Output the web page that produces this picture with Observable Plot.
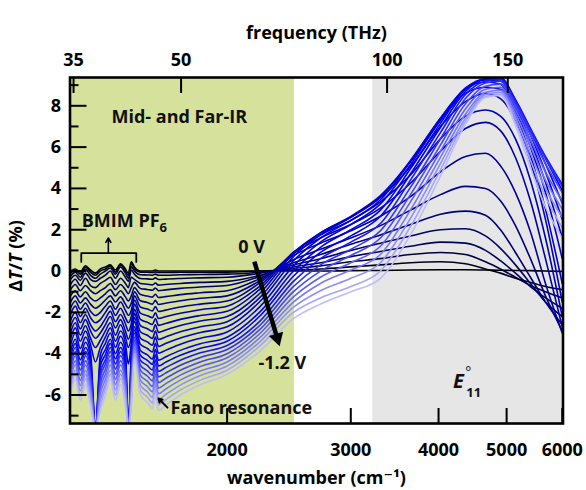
<!DOCTYPE html>
<html><head><meta charset="utf-8">
<script src="https://cdn.jsdelivr.net/npm/d3@7"></script>
<script src="https://cdn.jsdelivr.net/npm/@observablehq/plot@0.6"></script>
<style>
html,body{margin:0;padding:0;background:#fff;}
#chart{width:586px;height:490px;}
</style></head><body><div id="chart"></div>
<script>
// wavenumber grid (cm^-1)
const wavenumber = [1197,1216,1236,1257,1278,1299,1320,1342,1364,1387,1410,1433,1447,1461,1476,1505,1540,1566,1581,1597,1634,1716,1832,2000,2231,2486,2716,3000,3306,3648,4025,4369,4665,4900,5147,5406,5679,6000];
// gate voltages (V)
const voltages = [0,-0.05,-0.1,-0.15,-0.2,-0.25,-0.3,-0.35,-0.4,-0.45,-0.5,-0.55,-0.6,-0.65,-0.7,-0.75,-0.8,-0.85,-0.9,-0.95,-1.0,-1.05,-1.1,-1.15,-1.2];
// ΔT/T (%) spectra, one per voltage
const dT_000 = [0,0.1,-0.05,0.25,0.05,-0.1,0.1,0.2,0.3,0.05,0.35,0.1,-0.1,0.45,0.2,0,0,0,0.05,0,0, 0,0,0,0,0,0,0.02,0.03, 0.05,0.06,0.06,0.05,0.04,0.03,0.02,0,-0.02];
const dT_005 = [-0.1,0.05,-0.15,0.2,-0.05,-0.2,0,0.1,0.25,-0.05,0.3,0,-0.2,0.35,0.1,-0.05,-0.06,-0.07,-0.04,-0.07,-0.07, -0.06,-0.055,-0.05,0,0.05,0.1,0.2,0.3, 0.4,0.45,0.35,0.1,-0.1,-0.35,-0.55,-0.75,-0.9];
const dT_010 = [-0.25,-0.05,-0.3,0.1,-0.2,-0.35,-0.15,0,0.15,-0.15,0.2,-0.1,-0.35,0.2,0,-0.18,-0.19,-0.2,-0.15,-0.2,-0.2, -0.18,-0.165,-0.15,-0.05,0.12,0.25,0.45,0.6, 0.8,0.9,0.8,0.45,0.1,-0.3,-0.7,-1.0,-1.3];
const dT_015 = [-0.4,-0.2,-0.45,-0.1,-0.4,-0.5,-0.35,-0.2,0,-0.35,0,-0.3,-0.5,0.05,-0.15,-0.36,-0.38,-0.4,-0.33,-0.41,-0.39, -0.36,-0.33,-0.3,-0.1,0.2,0.4,0.7,0.95, 1.2,1.4,1.35,1.0,0.5,-0.1,-0.75,-1.3,-1.8];
const dT_020 = [-0.65,-0.4,-0.7,-0.35,-0.7,-0.8,-0.6,-0.45,-0.3,-0.65,-0.35,-0.6,-0.8,-0.3,-0.4,-0.6,-0.64,-0.67,-0.58,-0.68,-0.65, -0.6,-0.55,-0.5,-0.2,0.3,0.6,1.0,1.35, 1.7,2.0,2.05,1.7,1.1,0.3,-0.6,-1.5,-2.2];
const dT_025 = [-0.9,-0.65,-0.95,-0.7,-0.95,-1.1,-0.95,-0.8,-0.6,-0.9,-0.65,-0.9,-1.1,-0.8,-0.55,-0.84,-0.89,-0.93,-0.82,-0.95,-0.91, -0.84,-0.77,-0.7,-0.25,0.4,0.8,1.3,1.75, 2.25,2.75,2.9,2.7,2.0,0.9,-0.3,-1.5,-2.6];
const dT_030 = [-1.2,-0.95,-1.25,-1.0,-1.3,-1.45,-1.3,-1.1,-0.9,-1.2,-0.95,-1.25,-1.45,-1.2,-0.8,-1.14,-1.21,-1.26,-1.12,-1.28,-1.24, -1.14,-1.05,-0.95,-0.35,0.55,1.05,1.6,2.2, 2.95,3.7,4.1,4.0,3.4,2.2,0.6,-1.2,-2.9];
const dT_035 = [-1.5,-1.2,-1.55,-1.3,-1.6,-1.8,-1.65,-1.4,-1.2,-1.5,-1.25,-1.6,-1.8,-1.55,-1.0,-1.44,-1.52,-1.6,-1.42,-1.62,-1.56, -1.44,-1.32,-1.2,-0.45,0.75,1.35,1.95,2.65, 3.6,4.8,5.55,5.7,5.1,3.8,1.9,-0.6,-3.0];
const dT_040 = [-1.8,-1.45,-1.85,-1.55,-1.95,-2.15,-2.0,-1.7,-1.45,-1.85,-1.5,-1.9,-2.15,-1.9,-1.2,-1.74,-1.84,-1.93,-1.72,-1.96,-1.89, -1.74,-1.6,-1.45,-0.55,0.85,1.6,2.25,3.05, 4.25,5.8,6.9,7.2,6.8,5.5,3.4,0.6,-2.7];
const dT_045 = [-2.1,-1.7,-2.2,-1.8,-2.25,-2.5,-2.35,-2.0,-1.7,-2.15,-1.8,-2.25,-2.5,-2.2,-1.4,-2.04,-2.16,-2.26,-2.02,-2.3,-2.21, -2.04,-1.87,-1.7,-0.7,0.9,1.75,2.45,3.35, 4.65,6.4,7.5,7.8,7.5,6.4,4.4,1.6,-2.2];
const dT_050 = [-2.4,-2.0,-2.5,-2.1,-2.6,-2.9,-2.7,-2.3,-1.95,-2.45,-2.1,-2.55,-2.9,-2.55,-1.6,-2.34,-2.48,-2.59,-2.3,-2.63,-2.54, -2.34,-2.15,-1.95,-0.85,0.9,1.85,2.6,3.55, 5.05,7.0,8.2,8.6,8.35,7.25,5.3,2.5,-1.5];
const dT_055 = [-2.7,-2.25,-2.8,-2.35,-2.9,-3.25,-3.0,-2.6,-2.2,-2.75,-2.35,-2.9,-3.3,-2.85,-1.85,-2.64,-2.79,-2.93,-2.6,-2.97,-2.86, -2.64,-2.42,-2.2,-1.05,0.85,1.85,2.65,3.65, 5.3,7.3,8.6,8.9,8.8,7.6,5.6,3.0,-0.6];
const dT_060 = [-3.0,-2.5,-3.1,-2.65,-3.25,-3.7,-3.35,-2.9,-2.5,-3.1,-2.6,-3.2,-3.7,-3.2,-2.05,-2.94,-3.11,-3.26,-2.9,-3.31,-3.19, -2.94,-2.7,-2.45,-1.25,0.7,1.75,2.6,3.6, 5.35,7.4,8.8,9.15,9.05,7.8,6.0,3.8,0.6];
const dT_065 = [-3.3,-2.75,-3.4,-2.9,-3.55,-4.4,-3.7,-3.2,-2.75,-3.4,-2.9,-3.5,-4.5,-3.55,-2.25,-3.24,-3.43,-3.59,-3.2,-3.65,-3.51, -3.24,-2.97,-2.7,-1.45,0.5,1.6,2.45,3.45, 5.3,7.4,8.85,9.25,9.2,8.0,6.3,4.3,1.6];
const dT_070 = [-3.6,-3.0,-3.75,-3.2,-3.9,-7.6,-4.05,-3.5,-3.0,-3.7,-3.15,-3.85,-7.6,-3.9,-2.45,-3.54,-3.75,-3.92,-3.5,-3.98,-3.84, -3.54,-3.25,-2.95,-1.7,0.25,1.4,2.25,3.25, 5.15,7.3,8.85,9.3,9.3,8.15,6.6,4.8,2.5];
const dT_075 = [-3.9,-3.3,-4.05,-3.45,-4.2,-7.6,-4.35,-3.8,-3.3,-4.0,-3.45,-4.2,-7.6,-4.25,-2.7,-3.84,-4.06,-4.26,-3.8,-4.32,-4.16, -3.84,-3.52,-3.2,-1.95,0.0,1.15,2.0,2.95, 4.95,7.15,8.8,9.3,9.35,8.25,6.8,5.2,3.3];
const dT_080 = [-4.15,-3.5,-4.3,-3.7,-4.45,-7.6,-4.6,-4.05,-3.5,-4.25,-3.7,-4.45,-7.6,-4.5,-2.85,-4.08,-4.32,-4.52,-4.05,-4.59,-4.42, -4.08,-3.74,-3.4,-2.15,-0.25,0.9,1.7,2.65, 4.7,6.95,8.7,9.3,9.35,8.3,6.9,5.45,3.9];
const dT_085 = [-4.4,-3.7,-4.55,-3.9,-4.7,-7.6,-4.9,-4.3,-3.7,-4.5,-3.9,-4.7,-7.6,-4.75,-3.0,-4.32,-4.57,-4.79,-4.3,-4.86,-4.68, -4.32,-3.96,-3.6,-2.4,-0.5,0.6,1.4,2.3, 4.4,6.7,8.55,9.2,9.3,8.25,6.9,5.55,4.2];
const dT_090 = [-4.6,-3.9,-4.8,-4.1,-5.0,-7.6,-5.15,-4.5,-3.9,-4.75,-4.1,-4.95,-7.6,-5.0,-3.2,-4.56,-4.83,-5.05,-4.5,-5.13,-4.94, -4.56,-4.18,-3.8,-2.6,-0.75,0.3,1.05,1.95, 4.05,6.4,8.35,9.1,9.2,8.15,6.8,5.45,4.1];
const dT_095 = [-4.85,-4.1,-5.05,-4.35,-5.25,-7.6,-5.45,-4.75,-4.1,-5.0,-4.35,-5.2,-7.6,-5.3,-3.35,-4.8,-5.08,-5.32,-4.75,-5.4,-5.2, -4.8,-4.4,-4.0,-2.8,-1.0,0.0,0.75,1.6, 3.7,6.1,8.1,8.95,9.05,8.0,6.6,5.2,3.8];
const dT_100 = [-5.1,-4.35,-5.3,-4.55,-5.5,-7.6,-5.7,-5.0,-4.3,-5.25,-4.55,-5.45,-7.6,-5.55,-3.5,-5.04,-5.33,-5.59,-5.0,-5.67,-5.46, -5.04,-4.62,-4.2,-3.0,-1.25,-0.3,0.4,1.2, 3.35,5.8,7.85,8.8,8.9,7.8,6.35,4.8,3.4];
const dT_105 = [-5.3,-4.55,-5.55,-4.8,-5.75,-7.6,-5.95,-5.25,-4.55,-5.5,-4.8,-5.7,-7.6,-5.8,-3.7,-5.28,-5.59,-5.85,-5.25,-5.94,-5.72, -5.28,-4.84,-4.4,-3.2,-1.5,-0.6,0.05,0.8, 2.95,5.5,7.6,8.65,8.75,7.6,6.05,4.4,3.0];
const dT_110 = [-5.55,-4.8,-5.8,-5.0,-6.0,-7.6,-6.25,-5.5,-4.8,-5.75,-5.0,-5.95,-7.6,-6.05,-3.85,-5.52,-5.84,-6.12,-5.5,-6.21,-5.98, -5.52,-5.06,-4.6,-3.4,-1.75,-0.95,-0.35,0.4, 2.55,5.2,7.4,8.55,8.65,7.4,5.7,4.0,2.6];
const dT_115 = [-5.8,-5.0,-6.05,-5.2,-6.3,-7.6,-6.5,-5.7,-5.0,-6.0,-5.2,-6.2,-7.6,-6.3,-4.0,-5.76,-6.1,-6.38,-5.72,-6.48,-6.24, -5.76,-5.28,-4.8,-3.6,-2.0,-1.3,-0.75,0.0, 2.15,4.9,7.25,8.45,8.55,7.2,5.35,3.6,2.1];
const dT_120 = [-6.0,-5.25,-6.25,-5.5,-6.5,-7.6,-6.75,-6.0,-5.25,-6.25,-5.5,-6.5,-7.6,-6.55,-4.2,-6.0,-6.35,-6.65,-6.0,-6.75,-6.5, -6.0,-5.5,-5.0,-3.85,-2.3,-1.6,-1.0,-0.35, 1.75,4.6,7.1,8.4,8.5,7.05,5.0,3.1,1.6];
const spectra = [dT_000,dT_005,dT_010,dT_015,dT_020,dT_025,dT_030,dT_035,dT_040,dT_045,dT_050,dT_055,dT_060,dT_065,dT_070,dT_075,dT_080,dT_085,dT_090,dT_095,dT_100,dT_105,dT_110,dT_115,dT_120];

// axes
const wavenumberTicks = [2000,3000,4000,5000,6000];
const freqTicksTHz = [35,50,100,150];
const freqTickWavenumber = [1209,1720,3379,5019]; // where each frequency tick sits on the wavenumber axis
const yMajorTicks = [-6,-4,-2,0,2,4,6,8];
const yMinorTicks = [-7,-5,-3,-1,1,3,5,7,9];
// spectral regions (cm^-1)
const midFarIR = [{from: 1195, to: 2494}];
const e11Region = [{from: 3224, to: 6015}];
// annotations (data coordinates)
const labels = [
  {wn: 1369, dT: 7.43, text: "Mid- and Far-IR"},
  {wn: 2075, dT: 1.14, text: "0 V"},
  {wn: 2216, dT: -4.48, text: "-1.2 V"},
  {wn: 1661, dT: -6.66, text: "Fano resonance"}
];
const voltageArrow = [{x1: 2187, y1: 0.46, x2: 2357, y2: -3.24}];
const fanoArrow = [{x1: 1645, y1: -6.61, x2: 1597, y2: -6.17}];
const bmimArrow = [{x1: 1355, y1: 0.87, x2: 1355, y2: 1.6}];
const bmimBracket = [{wn: 1240, dT: 0.44}, {wn: 1240, dT: 0.87}, {wn: 1485, dT: 0.87}, {wn: 1485, dT: 0.44}];

const rows = spectra.flatMap((vals, i) => vals.map((v, j) => ({wn: wavenumber[j], dT: v, V: voltages[i]})));

const W = 586, H = 490, mT = 77, mB = 67, mL = 69.5, mR = 23.5;
const iw = W - mL - mR, ih = H - mT - mB;
const FONT = "'Open Sans', 'DejaVu Sans', sans-serif";

const plot = Plot.plot({
  width: W, height: H,
  marginTop: mT, marginBottom: mB, marginLeft: mL, marginRight: mR,
  style: {fontFamily: FONT, background: "#ffffff", color: "#000"},
  x: {type: "log", domain: [1195, 6015]},
  y: {domain: [-7.38, 9.37]},
  color: {type: "linear", domain: [0, -0.15, -0.45, -0.8, -1.2], range: ["#000000", "#00005a", "#0000b4", "#0000ff", "#bcbcff"], interpolate: "rgb"},
  marks: [
    Plot.rect(midFarIR, {x1: "from", x2: "to", fill: "#d6e19c"}),
    Plot.rect(e11Region, {x1: "from", x2: "to", fill: "#e6e6e6"}),
    Plot.line(rows, {x: "wn", y: "dT", z: "V", stroke: "V", strokeWidth: 1.6, curve: "monotone-x", clip: true}),
    Plot.frame({stroke: "#000", strokeWidth: 2.6}),
    Plot.tickY(yMajorTicks, {y: d => d, insetRight: iw - 17, stroke: "#000", strokeWidth: 2}),
    Plot.tickY(yMinorTicks, {y: d => d, insetRight: iw - 9, stroke: "#000", strokeWidth: 2}),
    Plot.tickX(wavenumberTicks, {x: d => d, insetTop: ih - 15, stroke: "#000", strokeWidth: 2}),
    Plot.tickX(freqTickWavenumber, {x: d => d, insetBottom: ih - 16, stroke: "#000", strokeWidth: 2}),
    Plot.axisY(yMajorTicks, {anchor: "left", tickSize: 0, tickPadding: 9, tickFormat: d => String(d), fontSize: 18, fontWeight: "bold", label: null}),
    Plot.axisX(wavenumberTicks, {anchor: "bottom", tickSize: 0, tickPadding: 20, tickFormat: d => String(d), fontSize: 18, fontWeight: "bold", label: null}),
    Plot.axisX(freqTickWavenumber, {anchor: "top", tickSize: 0, tickPadding: 12, tickFormat: d => String(freqTicksTHz[freqTickWavenumber.indexOf(d)]), fontSize: 18, fontWeight: "bold", label: null}),
    Plot.text(["frequency (THz)"], {frameAnchor: "top", dy: -51, text: d => d, fontSize: 18, fontWeight: "bold"}),
    Plot.text(["wavenumber (cm⁻¹)"], {frameAnchor: "bottom", dy: 60, text: d => d, fontSize: 18, fontWeight: "bold"}),
    Plot.text(labels, {x: "wn", y: "dT", text: "text", textAnchor: "start", fontSize: 18, fontWeight: "bold", fill: "#111"}),
    Plot.line(bmimBracket, {x: "wn", y: "dT", stroke: "#000", strokeWidth: 1.8}),
    Plot.arrow(bmimArrow, {x1: "x1", y1: "y1", x2: "x2", y2: "y2", stroke: "#000", strokeWidth: 1.6, headLength: 7}),
    Plot.arrow(fanoArrow, {x1: "x1", y1: "y1", x2: "x2", y2: "y2", stroke: "#000", strokeWidth: 2, headLength: 7}),
    Plot.link(voltageArrow, {x1: "x1", y1: "y1", x2: "x2", y2: "y2", stroke: "#000", strokeWidth: 4.5}),
    Plot.dot(voltageArrow, {x: "x2", y: "y2", symbol: "triangle", r: 5.5, fill: "#000", stroke: "none", rotate: 163.5})
  ]
});

const svg = d3.select(plot);
const xs = plot.scale("x"), ys = plot.scale("y");
// y-axis title with italic T
const yl = svg.append("text").attr("transform", "translate(22,256) rotate(-90)").attr("text-anchor", "middle")
  .attr("font-family", FONT).attr("font-size", 18).attr("font-weight", "bold").attr("fill", "#000");
yl.append("tspan").text("Δ");
yl.append("tspan").attr("font-style", "italic").text("T");
yl.append("tspan").text("/");
yl.append("tspan").attr("font-style", "italic").text("T");
yl.append("tspan").text(" (%)");
// BMIM PF6
const bm = svg.append("text").attr("x", xs.apply(1244)).attr("y", ys.apply(2.12)).attr("text-anchor", "start")
  .attr("font-family", FONT).attr("font-size", 18).attr("font-weight", "bold").attr("fill", "#111");
bm.append("tspan").text("BMIM PF");
bm.append("tspan").attr("dy", 5).attr("font-size", 13).text("6");
// E°11 as one text element
const ex = xs.apply(4200), ey = ys.apply(-5.69);
const e11 = svg.append("text").attr("x", ex).attr("y", ey).attr("text-anchor", "start")
  .attr("font-family", FONT).attr("font-weight", "bold").attr("fill", "#111");
e11.append("tspan").attr("font-size", 20).attr("font-style", "italic").text("E");
e11.append("tspan").attr("font-size", 14).attr("font-weight", "normal").attr("dx", 1.5).attr("dy", -11).text("°");
e11.append("tspan").attr("font-size", 13).attr("dx", -5).attr("dy", 20).text("11");

document.getElementById("chart").appendChild(plot);
</script></body></html>
